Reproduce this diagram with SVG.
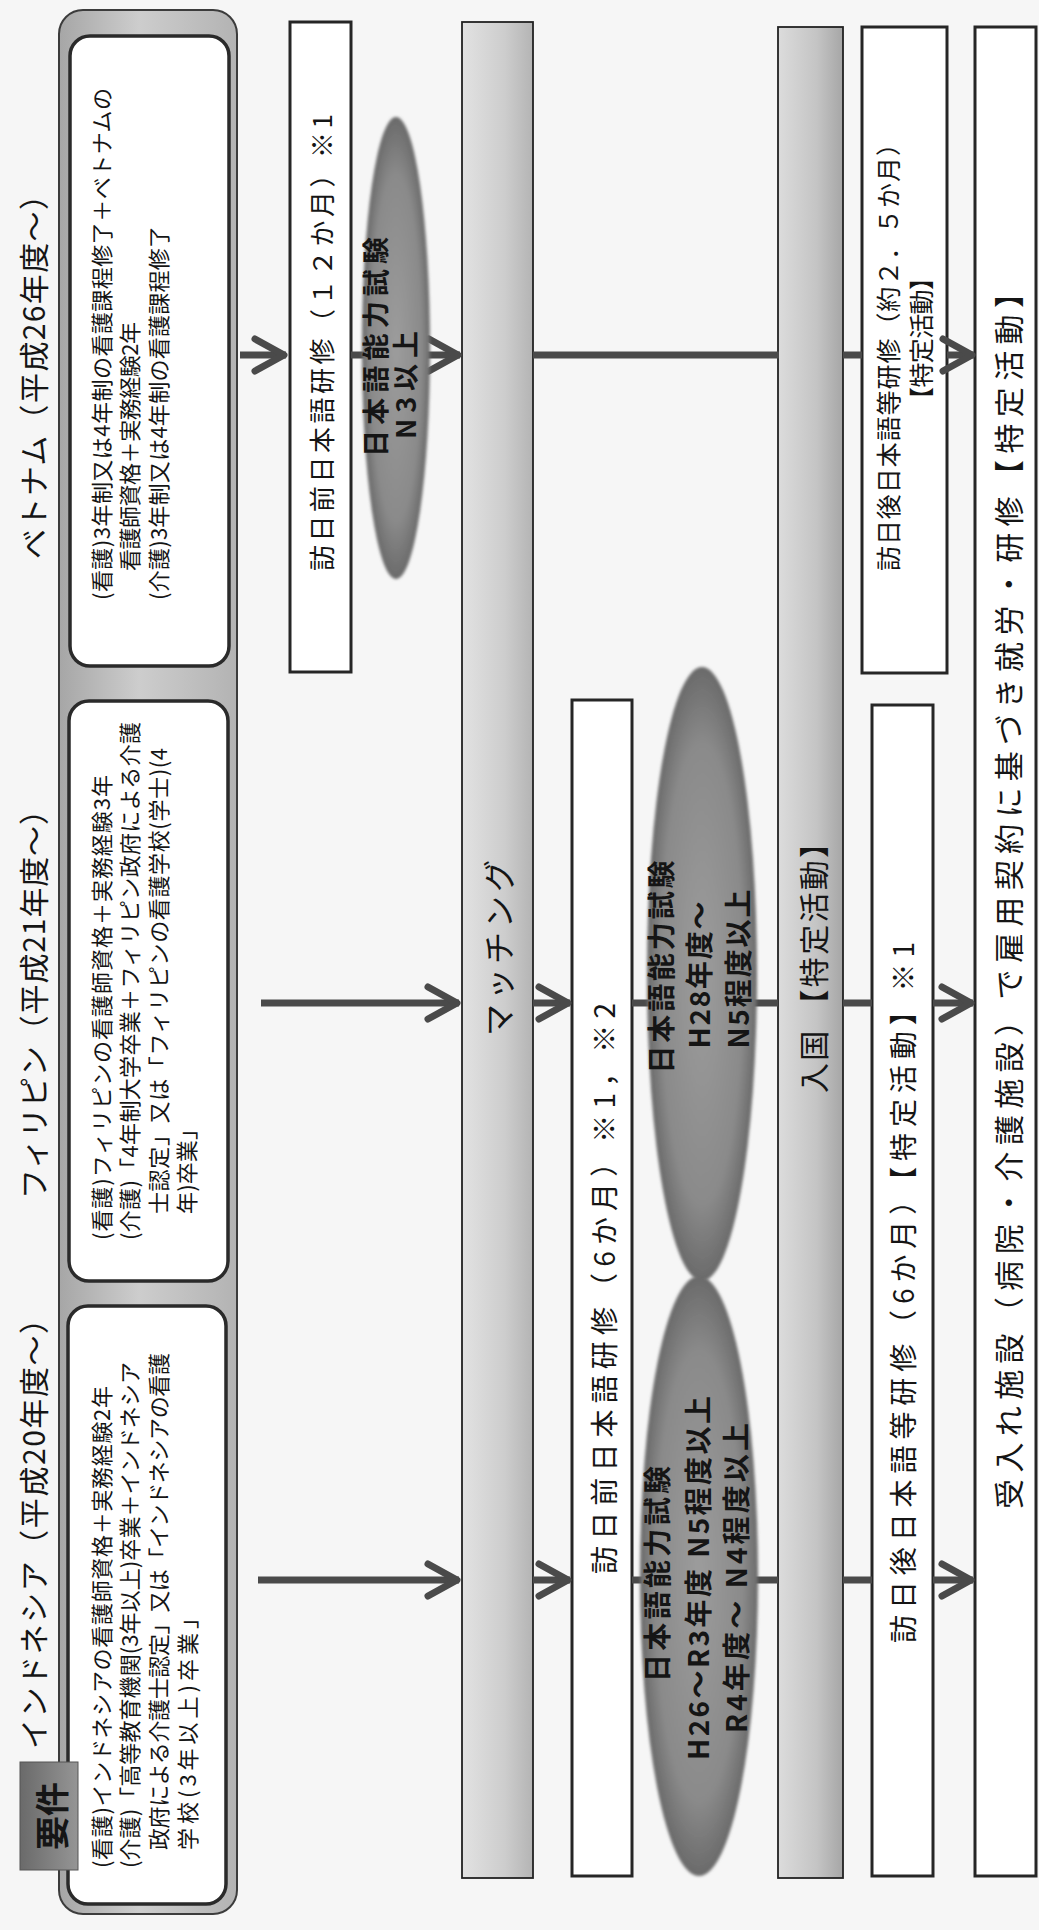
<svg xmlns="http://www.w3.org/2000/svg" width="1039" height="1930" viewBox="0 0 1039 1930">
<defs>
<style>
.t{font-family:"Noto Sans CJK JP","Noto Sans",sans-serif;fill:#151515;dominant-baseline:central}
.b{font-weight:bold}
.wbox{fill:#ffffff;stroke:#262626;stroke-width:3}
.ibox{fill:#ffffff;stroke:#2a2a2a;stroke-width:3.5}
.conn{fill:none;stroke:#4a4a4a;stroke-width:7}
.arr{marker-end:url(#chev)}
</style>
<linearGradient id="gCont" x1="0" y1="0" x2="1" y2="0">
<stop offset="0" stop-color="#a6a6a6"/><stop offset="0.45" stop-color="#cdcdcd"/><stop offset="1" stop-color="#b3b3b3"/>
</linearGradient>
<linearGradient id="gBar" x1="0" y1="0" x2="1" y2="0">
<stop offset="0" stop-color="#e2e2e2"/><stop offset="0.6" stop-color="#cdcdcd"/><stop offset="1" stop-color="#b4b4b4"/>
</linearGradient>
<linearGradient id="gBar2" x1="0" y1="0" x2="1" y2="0">
<stop offset="0" stop-color="#dcdcdc"/><stop offset="0.6" stop-color="#c4c4c4"/><stop offset="1" stop-color="#a6a6a6"/>
</linearGradient>
<linearGradient id="gTab" x1="0" y1="0" x2="1" y2="0">
<stop offset="0" stop-color="#6a6a6a"/><stop offset="1" stop-color="#959595"/>
</linearGradient>
<radialGradient id="gEll" cx="0.5" cy="0.5" r="0.5">
<stop offset="0" stop-color="#9c9c9c"/><stop offset="0.75" stop-color="#8a8a8a"/><stop offset="1" stop-color="#6a6a6a"/>
</radialGradient>
<filter id="soft" x="-0.2" y="-0.05" width="1.4" height="1.1"><feGaussianBlur stdDeviation="1.6"/></filter>
<marker id="chev" markerUnits="userSpaceOnUse" viewBox="-40 -24 48 48" markerWidth="48" markerHeight="48" refX="0" refY="0" orient="auto" overflow="visible">
<path d="M-31,-16 L-2,0 L-31,16" fill="none" stroke="#4a4a4a" stroke-width="7" stroke-linecap="round" stroke-linejoin="round"/>
</marker>
</defs>
<rect x="0" y="0" width="1039" height="1930" fill="#f6f6f6"/>

<g id="headers">
<text class="t" font-size="30" transform="translate(32 1749) rotate(-90)" textLength="445" lengthAdjust="spacing">インドネシア（平成20年度〜）</text>
<text class="t" font-size="30" transform="translate(32 1199) rotate(-90)" textLength="404" lengthAdjust="spacing">フィリピン（平成21年度〜）</text>
<text class="t" font-size="30" transform="translate(32 559) rotate(-90)" textLength="379" lengthAdjust="spacing">ベトナム（平成26年度〜）</text>
</g>

<g id="requirements">
<rect x="59" y="10" width="178" height="1904" rx="24" fill="url(#gCont)" stroke="#3c3c3c" stroke-width="2"/>
</g>

<g id="req-vietnam">
<rect class="ibox" x="70" y="36" width="159" height="630" rx="20"/>
<text class="t" font-size="22" transform="translate(100 600) rotate(-90)" textLength="512" lengthAdjust="spacing">(看護)3年制又は4年制の看護課程修了＋ベトナムの</text>
<text class="t" font-size="22" transform="translate(128 571) rotate(-90)" textLength="249" lengthAdjust="spacing">看護師資格＋実務経験2年</text>
<text class="t" font-size="22" transform="translate(157 600) rotate(-90)" textLength="374" lengthAdjust="spacing">(介護)3年制又は4年制の看護課程修了</text>
</g>

<g id="req-philippines">
<rect class="ibox" x="69" y="701" width="159" height="580" rx="20"/>
<text class="t" font-size="22" transform="translate(100 1240) rotate(-90)" textLength="465" lengthAdjust="spacing">(看護)フィリピンの看護師資格＋実務経験3年</text>
<text class="t" font-size="22" transform="translate(128 1240) rotate(-90)" textLength="518" lengthAdjust="spacing">(介護)「4年制大学卒業＋フィリピン政府による介護</text>
<text class="t" font-size="22" transform="translate(157 1214) rotate(-90)" textLength="466" lengthAdjust="spacing">士認定」又は「フィリピンの看護学校(学士)(4</text>
<text class="t" font-size="22" transform="translate(185 1214) rotate(-90)" textLength="96" lengthAdjust="spacing">年)卒業」</text>
</g>

<g id="req-indonesia">
<rect class="ibox" x="68" y="1306" width="158" height="598" rx="20"/>
<text class="t" font-size="22" transform="translate(100 1868) rotate(-90)" textLength="482" lengthAdjust="spacing">(看護)インドネシアの看護師資格＋実務経験2年</text>
<text class="t" font-size="22" transform="translate(128 1868) rotate(-90)" textLength="506" lengthAdjust="spacing">(介護)「高等教育機関(3年以上)卒業＋インドネシア</text>
<text class="t" font-size="22" transform="translate(157 1850) rotate(-90)" textLength="497" lengthAdjust="spacing">政府による介護士認定」又は「インドネシアの看護</text>
<text class="t" font-size="22" transform="translate(186 1850) rotate(-90)" textLength="243" lengthAdjust="spacing">学校(3年以上)卒業」</text>
</g>

<g id="req-tab">
<rect x="20" y="1762" width="58" height="108" fill="url(#gTab)" stroke="#555" stroke-width="1"/>
<text class="t b" font-size="34" text-anchor="middle" transform="translate(50 1816) rotate(-90)">要件</text>
</g>

<g id="pre-vietnam">
<rect class="wbox" x="290" y="22" width="61" height="650"/>
<text class="t" font-size="26" transform="translate(320 571) rotate(-90)" textLength="457" lengthAdjust="spacing">訪日前日本語研修（１２か月）※1</text>
</g>

<g id="matching">
<rect x="462" y="22" width="71" height="1856" fill="url(#gBar)" stroke="#222" stroke-width="1.8"/>
<text class="t" font-size="32" text-anchor="middle" transform="translate(497 948) rotate(-90)" textLength="176" lengthAdjust="spacing">マッチング</text>
</g>

<g id="pre-indo-phil">
<rect class="wbox" x="572" y="700" width="60" height="1176"/>
<text class="t" font-size="28" transform="translate(603 1574) rotate(-90)" textLength="571" lengthAdjust="spacing">訪日前日本語研修（6か月）※1，※2</text>
</g>

<g id="entry">
<rect x="778" y="27" width="65" height="1851" fill="url(#gBar2)" stroke="#222" stroke-width="1.8"/>
<text class="t" font-size="30" transform="translate(812 1093) rotate(-90)" textLength="265" lengthAdjust="spacing">入国 【特定活動】</text>
</g>

<g id="post-vietnam">
<rect class="wbox" x="862" y="27" width="85" height="646"/>
<text class="t" font-size="25" transform="translate(887 571) rotate(-90)" textLength="440" lengthAdjust="spacing">訪日後日本語等研修（約２．５か月）</text>
<text class="t" font-size="25" transform="translate(920 412) rotate(-90)" textLength="147" lengthAdjust="spacing">【特定活動】</text>
</g>

<g id="post-indo-phil">
<rect class="wbox" x="872" y="705" width="61" height="1171"/>
<text class="t" font-size="28" transform="translate(902 1643) rotate(-90)" textLength="701" lengthAdjust="spacing">訪日後日本語等研修（6か月）【特定活動】※1</text>
</g>

<g id="facility">
<rect class="wbox" x="975" y="27" width="61" height="1849"/>
<text class="t" font-size="30" transform="translate(1007 1509) rotate(-90)" textLength="1231" lengthAdjust="spacing">受入れ施設（病院・介護施設）で雇用契約に基づき就労・研修【特定活動】</text>
</g>

<g id="connectors">
<path class="conn arr" d="M240,355 H286"/>
<path class="conn arr" d="M351,355 H460"/>
<path class="conn" d="M533,355 H779"/>
<path class="conn" d="M843,355 H862"/>
<path class="conn arr" d="M947,355 H974"/>
<path class="conn arr" d="M261,1003 H459"/>
<path class="conn arr" d="M533,1003 H570"/>
<path class="conn" d="M632,1003 H778"/>
<path class="conn" d="M843,1003 H872"/>
<path class="conn arr" d="M933,1003 H973"/>
<path class="conn arr" d="M258,1580 H459"/>
<path class="conn arr" d="M533,1580 H570"/>
<path class="conn" d="M632,1580 H778"/>
<path class="conn" d="M843,1580 H872"/>
<path class="conn arr" d="M933,1580 H973"/>
</g>

<g id="jlpt-vietnam">
<ellipse cx="396" cy="348" rx="34" ry="231" fill="url(#gEll)" filter="url(#soft)"/>
<text class="t b" font-size="27" transform="translate(374 457) rotate(-90)" textLength="220" lengthAdjust="spacing">日本語能力試験</text>
<text class="t b" font-size="27" transform="translate(404 439) rotate(-90)" textLength="108" lengthAdjust="spacing">N3以上</text>
</g>

<g id="jlpt-philippines">
<ellipse cx="702" cy="974" rx="55" ry="307" fill="url(#gEll)" filter="url(#soft)"/>
<text class="t b" font-size="28" text-anchor="middle" transform="translate(660 967) rotate(-90)" textLength="213" lengthAdjust="spacing">日本語能力試験</text>
<text class="t b" font-size="28" text-anchor="middle" transform="translate(698 975) rotate(-90)" textLength="147" lengthAdjust="spacing">H28年度〜</text>
<text class="t b" font-size="28" text-anchor="middle" transform="translate(737 969) rotate(-90)" textLength="159" lengthAdjust="spacing">N5程度以上</text>
</g>

<g id="jlpt-indonesia">
<ellipse cx="699" cy="1576" rx="59" ry="300" fill="url(#gEll)" filter="url(#soft)"/>
<text class="t b" font-size="28" text-anchor="middle" transform="translate(656 1574) rotate(-90)" textLength="216" lengthAdjust="spacing">日本語能力試験</text>
<text class="t b" font-size="28" text-anchor="middle" transform="translate(697 1578) rotate(-90)" textLength="364" lengthAdjust="spacing">H26〜R3年度  N5程度以上</text>
<text class="t b" font-size="28" text-anchor="middle" transform="translate(735 1578) rotate(-90)" textLength="310" lengthAdjust="spacing">R4年度〜  N4程度以上</text>
</g>
</svg>
